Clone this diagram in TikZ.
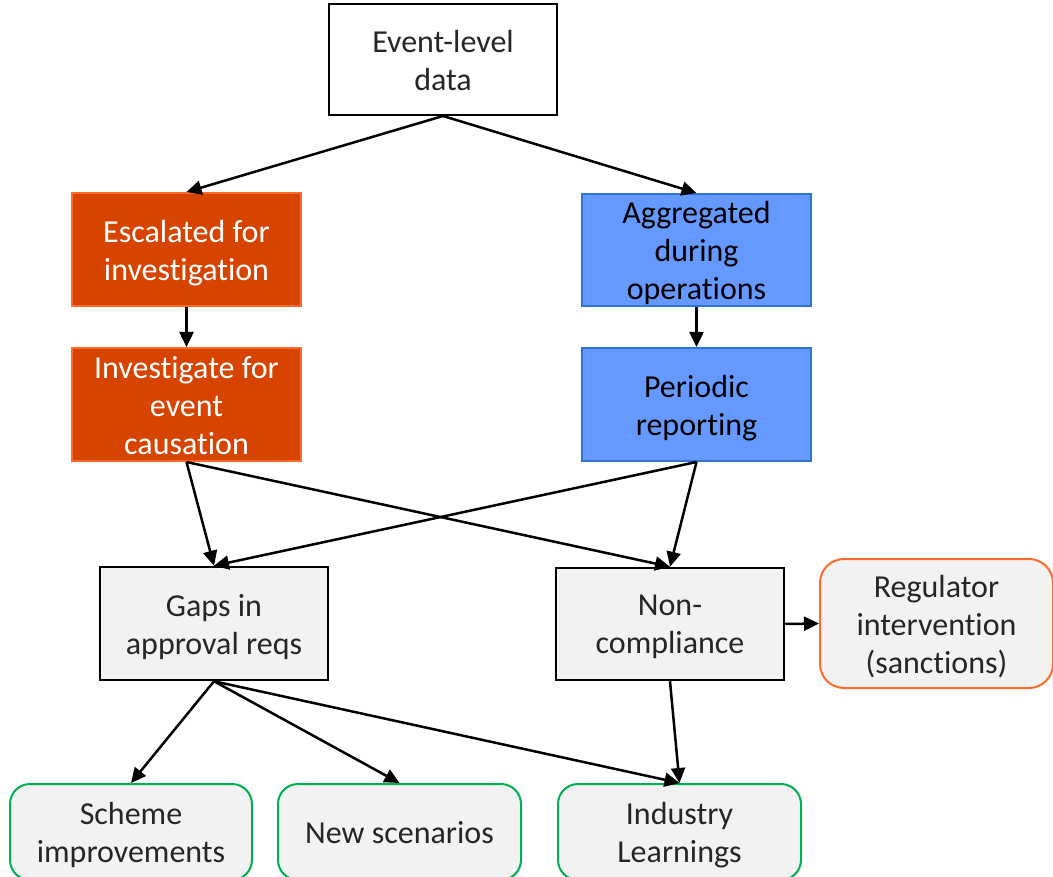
\documentclass[tikz,border=0pt]{standalone}
\usepackage{fontspec}
\setmainfont{Carlito}[Ligatures={NoCommon}]
\usetikzlibrary{arrows.meta}
\definecolor{escfill}{HTML}{D64400}
\definecolor{escline}{HTML}{FF6A2A}
\definecolor{aggfill}{HTML}{6699FF}
\definecolor{aggline}{HTML}{2E75D6}
\definecolor{boxgray}{HTML}{F2F2F2}
\definecolor{txtgray}{HTML}{262626}
\definecolor{outgreen}{HTML}{00B050}
\definecolor{regline}{HTML}{FF6A2A}
% same depth under every last line, so all labels sit alike
\newcommand{\botstrut}{\rule[-7pt]{0pt}{0pt}}
\tikzset{
  frame/.style={inner sep=0pt},
  startbox/.style={frame, draw=black, line width=2pt, fill=white},
  escbox/.style={frame, draw=escline, line width=2pt, fill=escfill},
  aggbox/.style={frame, draw=aggline, line width=2pt, fill=aggfill},
  findbox/.style={frame, draw=black, line width=2.5pt, fill=boxgray},
  regbox/.style={frame, draw=regline, line width=2pt, fill=boxgray, rounded corners=24pt},
  outbox/.style={frame, draw=outgreen, line width=2pt, fill=boxgray, rounded corners=20pt},
  txt/.style={inner sep=0pt, align=center, text=txtgray, font=\fontsize{32}{38}\selectfont,
    execute at end node=\botstrut},
  flow/.style={line width=2.5pt, draw=black, -{Triangle[length=15pt,width=14pt]}},
}
\begin{document}
\begin{tikzpicture}[x=1pt, y=-1pt]
\useasboundingbox (0,0) rectangle (1053,877);
\clip (0,0) rectangle (1053,877);
\fill[white] (0,0) rectangle (1053,877);

% source
\node[startbox, minimum width=228pt, minimum height=111pt] (event) at (443,59.5) {};
\node[txt] (event-t) at ([yshift=-4pt]event.center) {Event-level\\data};

% left branch
\node[escbox, minimum width=229pt, minimum height=113pt] (esc) at (186.5,249.5) {};
\node[txt, text=white] (esc-t) at ([yshift=-4pt]esc.center) {Escalated for\\investigation};
\node[escbox, minimum width=229pt, minimum height=113pt] (inv) at (186.5,404.5) {};
\node[txt, text=white] (inv-t) at ([yshift=-4pt]inv.center) {Investigate for\\event\\causation};

% right branch
\node[aggbox, minimum width=229pt, minimum height=112pt] (agg) at (696.5,250) {};
\node[txt, text=black] (agg-t) at ([yshift=-4pt]agg.center) {Aggregated\\during\\operations};
\node[aggbox, minimum width=229pt, minimum height=113pt] (rep) at (696.5,404.5) {};
\node[txt, text=black] (rep-t) at ([yshift=-4pt]rep.center) {Periodic\\reporting};

% findings
\node[findbox, minimum width=228pt, minimum height=113pt] (gaps) at (214,623.5) {};
\node[txt] (gaps-t) at ([yshift=-4pt]gaps.center) {Gaps in\\approval reqs};
\node[findbox, minimum width=228pt, minimum height=112pt] (nonc) at (670,624) {};
\node[txt] (nonc-t) at ([yshift=-4pt]nonc.center) {Non-\\compliance};
\node[regbox, minimum width=233pt, minimum height=129pt] (reg) at (936.5,623.5) {};
\node[txt] (reg-t) at ([yshift=-4pt]reg.center) {Regulator\\intervention\\(sanctions)};

% outcomes
\node[outbox, minimum width=242pt, minimum height=96pt] (scheme) at (131,832) {};
\node[txt] (scheme-t) at ([yshift=-4pt]scheme.center) {Scheme\\improvements};
\node[outbox, minimum width=243pt, minimum height=96pt] (scen) at (399.5,832) {};
\node[txt] (scen-t) at ([yshift=-4pt]scen.center) {New scenarios};
\node[outbox, minimum width=243pt, minimum height=96pt] (learn) at (679.5,832) {};
\node[txt] (learn-t) at ([yshift=-4pt]learn.center) {Industry\\Learnings};

% connectors
\draw[flow] (event.south) -- (esc.north);
\draw[flow] (event.south) -- (agg.north);
\draw[flow] (esc.south) -- (inv.north);
\draw[flow] (agg.south) -- (rep.north);
\draw[flow] (inv.south) -- (gaps.north);
\draw[flow] (inv.south) -- (nonc.north);
\draw[flow] (rep.south) -- (gaps.north);
\draw[flow] (rep.south) -- (nonc.north);
\draw[flow] (nonc.east) -- (reg.west);
\draw[flow] (gaps.south) -- (scheme.north);
\draw[flow] (gaps.south) -- (scen.north);
\draw[flow] (gaps.south) -- (learn.north);
\draw[flow] (nonc.south) -- (learn.north);
\end{tikzpicture}
\end{document}
